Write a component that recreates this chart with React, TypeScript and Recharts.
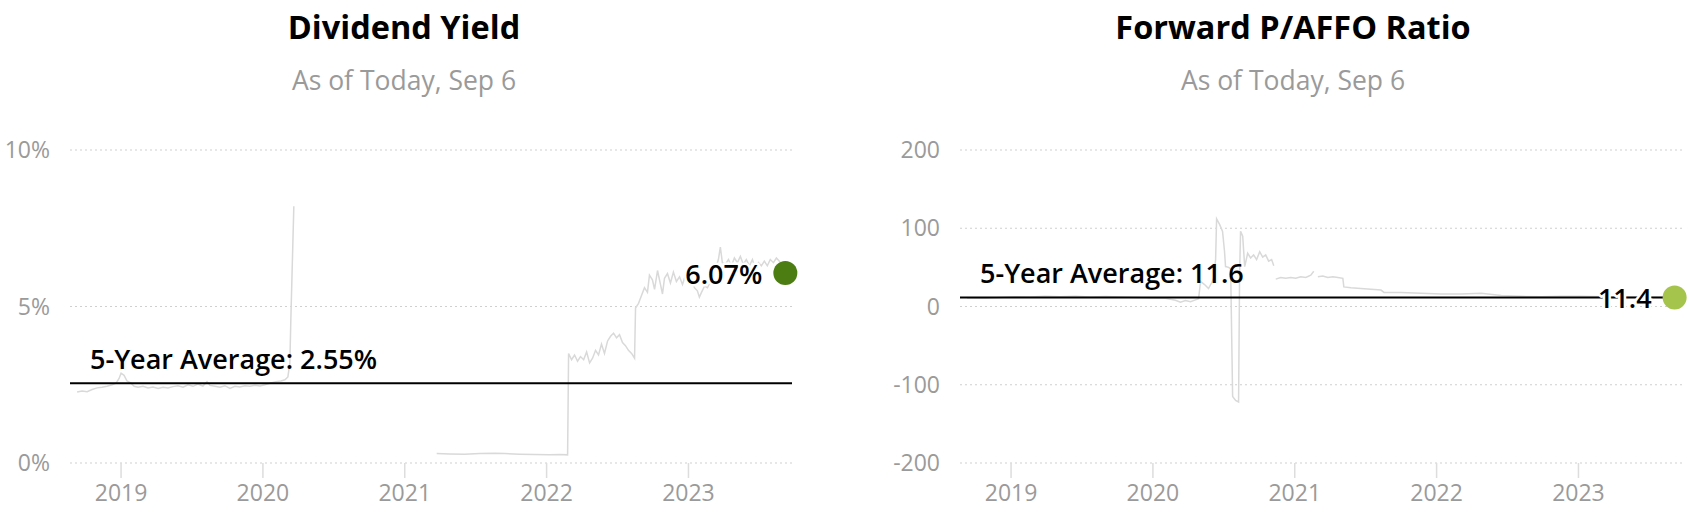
import {
  LineChart,
  Line,
  XAxis,
  YAxis,
  CartesianGrid,
  ReferenceLine,
  ReferenceDot,
} from 'recharts';

type Pt = [number, number];
type Row = { t: number; v: number | null };

const FONT = '"Open Sans", sans-serif';

const YEAR_TICKS = [2019, 2020, 2021, 2022, 2023];
const YEAR_DOMAIN: [number, number] = [2018.64, 2023.73];

// Dividend yield (%), [decimal year, value]
const YIELD_2018_2020: Pt[] = [
  [2018.69, 2.27], [2018.725, 2.3], [2018.761, 2.28], [2018.796, 2.35], [2018.831, 2.4],
  [2018.866, 2.42], [2018.901, 2.45], [2018.937, 2.5], [2018.965, 2.55], [2018.986, 2.7],
  [2019.0, 2.87], [2019.021, 2.8], [2019.042, 2.62], [2019.07, 2.55], [2019.092, 2.45],
  [2019.12, 2.42], [2019.155, 2.45], [2019.19, 2.4], [2019.225, 2.43], [2019.261, 2.38],
  [2019.296, 2.42], [2019.331, 2.4], [2019.366, 2.44], [2019.401, 2.47], [2019.437, 2.42],
  [2019.472, 2.5], [2019.507, 2.45], [2019.542, 2.52], [2019.577, 2.46], [2019.606, 2.6],
  [2019.627, 2.48], [2019.662, 2.45], [2019.697, 2.42], [2019.732, 2.47], [2019.768, 2.38],
  [2019.803, 2.45], [2019.838, 2.43], [2019.873, 2.47], [2019.908, 2.45], [2019.944, 2.48],
  [2019.979, 2.46], [2020.014, 2.5], [2020.049, 2.55], [2020.092, 2.6], [2020.127, 2.62],
  [2020.155, 2.66], [2020.176, 2.75], [2020.19, 3.2], [2020.197, 4.6], [2020.204, 5.8],
  [2020.211, 7.0], [2020.218, 8.2],
];

const YIELD_2021_2023: Pt[] = [
  [2021.225, 0.3], [2021.317, 0.29], [2021.423, 0.28], [2021.528, 0.3], [2021.634, 0.31],
  [2021.704, 0.3], [2021.81, 0.28], [2021.915, 0.27], [2022.021, 0.26], [2022.092, 0.27],
  [2022.148, 0.26], [2022.155, 3.5], [2022.176, 3.3], [2022.197, 3.45], [2022.218, 3.25],
  [2022.239, 3.4], [2022.261, 3.3], [2022.282, 3.55], [2022.303, 3.2], [2022.324, 3.35],
  [2022.345, 3.6], [2022.366, 3.45], [2022.387, 3.8], [2022.408, 3.5], [2022.43, 3.9],
  [2022.451, 4.05], [2022.472, 4.15], [2022.493, 4.0], [2022.514, 4.1], [2022.535, 3.85],
  [2022.556, 3.75], [2022.577, 3.6], [2022.599, 3.5], [2022.62, 3.35], [2022.627, 4.95],
  [2022.648, 5.1], [2022.669, 5.35], [2022.69, 5.6], [2022.711, 5.45], [2022.725, 6.0],
  [2022.746, 5.85], [2022.761, 5.55], [2022.782, 6.15], [2022.803, 5.7], [2022.817, 5.4],
  [2022.831, 5.9], [2022.852, 6.05], [2022.873, 5.75], [2022.894, 6.1], [2022.915, 5.8],
  [2022.937, 5.95], [2022.958, 5.7], [2022.979, 6.0], [2023.0, 5.85], [2023.021, 5.9],
  [2023.042, 5.6], [2023.063, 5.5], [2023.077, 5.3], [2023.092, 5.45], [2023.113, 5.65],
  [2023.134, 5.6], [2023.155, 5.8], [2023.176, 6.1], [2023.197, 6.3], [2023.211, 6.5],
  [2023.225, 6.9], [2023.239, 6.4], [2023.261, 6.35], [2023.282, 6.5], [2023.303, 6.3],
  [2023.324, 6.55], [2023.345, 6.4], [2023.366, 6.6], [2023.387, 6.35], [2023.408, 6.5],
  [2023.43, 6.3], [2023.451, 6.5], [2023.472, 6.2], [2023.493, 6.4], [2023.514, 6.3],
  [2023.535, 6.45], [2023.556, 6.3], [2023.577, 6.5], [2023.599, 6.4], [2023.62, 6.55],
  [2023.641, 6.45], [2023.662, 6.3], [2023.683, 6.07],
];

// Forward P/AFFO, [decimal year, value]
const PAFFO_2018_2020: Pt[] = [
  [2018.689, 11.0], [2018.816, 10.5], [2018.922, 11.5], [2019.028, 12.5], [2019.134, 12.0],
  [2019.24, 13.0], [2019.346, 12.5], [2019.452, 13.0], [2019.558, 12.2], [2019.664, 12.8],
  [2019.77, 12.0], [2019.876, 11.5], [2019.982, 11.0], [2020.088, 10.5], [2020.159, 8.0],
  [2020.194, 5.5], [2020.23, 7.5], [2020.265, 6.0], [2020.3, 8.5], [2020.322, 10],
  [2020.336, 32], [2020.364, 28], [2020.392, 23], [2020.413, 30], [2020.428, 36],
  [2020.442, 60], [2020.449, 112], [2020.47, 105], [2020.491, 96], [2020.505, 70],
  [2020.512, 51], [2020.534, 50], [2020.548, 48], [2020.562, -115], [2020.583, -120],
  [2020.604, -122], [2020.611, 40], [2020.618, 96], [2020.633, 90], [2020.647, 51],
  [2020.668, 68], [2020.689, 62], [2020.71, 66], [2020.731, 60], [2020.753, 70],
  [2020.774, 63], [2020.795, 66], [2020.816, 58], [2020.837, 60], [2020.852, 52],
];

const PAFFO_LATE_2020: Pt[] = [
  [2020.866, 35], [2020.901, 37], [2020.936, 36], [2020.972, 37], [2021.007, 36],
  [2021.042, 38], [2021.078, 37], [2021.113, 40], [2021.134, 45],
];

const PAFFO_2021_2023: Pt[] = [
  [2021.163, 38], [2021.198, 39], [2021.233, 37], [2021.269, 38], [2021.304, 37],
  [2021.339, 36], [2021.346, 25], [2021.396, 24], [2021.466, 23], [2021.537, 22],
  [2021.608, 21], [2021.629, 18], [2021.749, 18], [2021.89, 17], [2022.032, 16],
  [2022.173, 16], [2022.314, 17], [2022.456, 14], [2022.597, 13], [2022.739, 12.5],
  [2022.88, 13], [2023.021, 13], [2023.163, 12.5], [2023.304, 12], [2023.445, 12],
  [2023.587, 11.8], [2023.678, 11.4],
];

const YIELD_AVG = 2.55;
const PAFFO_AVG = 11.6;

function joinSegments(segments: Pt[][]): Row[] {
  const rows: Row[] = [];
  segments.forEach((seg, i) => {
    if (i > 0) {
      const prev = segments[i - 1];
      rows.push({ t: (prev[prev.length - 1][0] + seg[0][0]) / 2, v: null });
    }
    seg.forEach(([t, v]) => rows.push({ t, v }));
  });
  return rows;
}

const tickStyle = { fontSize: 23, fill: '#9a9a9a', fontFamily: FONT };

function AvgLabel({ viewBox, text }: { viewBox?: { x: number; y: number }; text: string }) {
  if (!viewBox) return null;
  return (
    <text
      x={viewBox.x + 20}
      y={viewBox.y - 14}
      fontSize={27}
      fontWeight={600}
      fontFamily={FONT}
      fill="#000"
    >
      {text}
    </text>
  );
}

function DotLabel({
  viewBox,
  text,
}: {
  viewBox?: { x: number; y: number; width: number; height: number };
  text: string;
}) {
  if (!viewBox) return null;
  const cx = viewBox.x + viewBox.width / 2;
  const cy = viewBox.y + viewBox.height / 2;
  return (
    <text
      x={cx - 23}
      y={cy}
      textAnchor="end"
      dominantBaseline="central"
      fontSize={27}
      fontWeight={600}
      fontFamily={FONT}
      fill="#000"
      stroke="#fff"
      strokeWidth={5}
      strokeLinejoin="round"
      paintOrder="stroke"
    >
      {text}
    </text>
  );
}

type PanelProps = {
  title: string;
  left: number;
  width: number;
  marginRight: number;
  titleCenter: number;
  data: Row[];
  yDomain: [number, number];
  yTicks: number[];
  yFormat: (v: number) => string;
  avg: number;
  avgText: string;
  last: Pt;
  lastText: string;
  dotColor: string;
};

function Panel(p: PanelProps) {
  return (
    <>
      <div
        style={{
          position: 'absolute',
          left: p.titleCenter - 300,
          width: 600,
          top: 11,
          textAlign: 'center',
          fontFamily: FONT,
          fontWeight: 700,
          fontSize: 32.5,
          lineHeight: '32.5px',
          color: '#000',
        }}
      >
        {p.title}
      </div>
      <div
        style={{
          position: 'absolute',
          left: p.titleCenter - 300,
          width: 600,
          top: 67,
          textAlign: 'center',
          fontFamily: FONT,
          fontSize: 26.5,
          lineHeight: '26.5px',
          color: '#9a9a9a',
        }}
      >
        As of Today, Sep 6
      </div>
      <div style={{ position: 'absolute', left: p.left, top: 0 }}>
        <LineChart
          width={p.width}
          height={516}
          data={p.data}
          margin={{ top: 150, right: p.marginRight, bottom: 0, left: 0 }}
        >
          <CartesianGrid vertical={false} stroke="#cfcfcf" strokeDasharray="2 3" />
          <XAxis
            dataKey="t"
            type="number"
            domain={YEAR_DOMAIN}
            ticks={YEAR_TICKS}
            allowDataOverflow
            tickFormatter={(v: number) => String(v)}
            tick={tickStyle}
            tickSize={15}
            tickMargin={7}
            tickLine={{ stroke: '#dddddd', strokeWidth: 1.5 }}
            axisLine={false}
            height={53}
          />
          <YAxis
            type="number"
            domain={p.yDomain}
            ticks={p.yTicks}
            tickFormatter={p.yFormat}
            tick={tickStyle}
            tickSize={0}
            tickMargin={20}
            tickLine={false}
            axisLine={false}
            width={70}
          />
          <Line
            dataKey="v"
            type="linear"
            stroke="#d9d9d9"
            strokeWidth={1.5}
            dot={false}
            activeDot={false}
            connectNulls={false}
            isAnimationActive={false}
          />
          <ReferenceLine
            y={p.avg}
            stroke="#000"
            strokeWidth={2}
            label={<AvgLabel text={p.avgText} />}
          />
          <ReferenceDot
            x={p.last[0]}
            y={p.last[1]}
            r={12}
            fill={p.dotColor}
            stroke="none"
            label={<DotLabel text={p.lastText} />}
          />
        </LineChart>
      </div>
    </>
  );
}

export default function App() {
  return (
    <div
      style={{
        position: 'absolute',
        left: 0,
        top: 0,
        width: 1692,
        height: 516,
        background: '#fff',
        overflow: 'hidden',
      }}
    >
      <Panel
        title="Dividend Yield"
        left={0}
        width={846}
        marginRight={54}
        titleCenter={404}
        data={joinSegments([YIELD_2018_2020, YIELD_2021_2023])}
        yDomain={[0, 10]}
        yTicks={[0, 5, 10]}
        yFormat={(v) => `${v}%`}
        avg={YIELD_AVG}
        avgText={`5-Year Average: ${YIELD_AVG}%`}
        last={YIELD_2021_2023[YIELD_2021_2023.length - 1]}
        lastText="6.07%"
        dotColor="#4b7d12"
      />
      <Panel
        title="Forward P/AFFO Ratio"
        left={890}
        width={802}
        marginRight={10}
        titleCenter={1293}
        data={joinSegments([PAFFO_2018_2020, PAFFO_LATE_2020, PAFFO_2021_2023])}
        yDomain={[-200, 200]}
        yTicks={[-200, -100, 0, 100, 200]}
        yFormat={(v) => String(v)}
        avg={PAFFO_AVG}
        avgText={`5-Year Average: ${PAFFO_AVG}`}
        last={PAFFO_2021_2023[PAFFO_2021_2023.length - 1]}
        lastText="11.4"
        dotColor="#a5c44c"
      />
    </div>
  );
}
